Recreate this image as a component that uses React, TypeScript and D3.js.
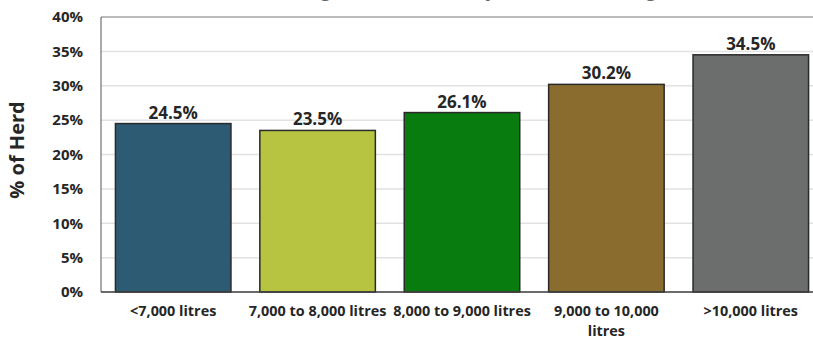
import React from "react";
import * as d3 from "d3";

// Milk yield bands and share of the herd in each
const categories: string[][] = [
  ["<7,000 litres"],
  ["7,000 to 8,000 litres"],
  ["8,000 to 9,000 litres"],
  ["9,000 to 10,000", "litres"],
  [">10,000 litres"],
];
const values: number[] = [24.5, 23.5, 26.1, 30.2, 34.5];
const barColors: string[] = ["#2d5b73", "#b6c441", "#087c0e", "#8a6c2f", "#6b6e6d"];
const yTicks: number[] = [0, 5, 10, 15, 20, 25, 30, 35, 40];
const title = "Percentage of Herd Culled by Milk Yield (Rolling 12 Months)";
const yTitle = "% of Herd";

const W = 813;
const H = 340;
const FONT = "'Open Sans', 'DejaVu Sans', sans-serif";

export default function App() {
  const left = 101;
  const right = 823;
  const top = 17;
  const bottom = 292;

  const keys = categories.map((c) => c.join(" "));
  const x = d3.scaleBand<string>().domain(keys).range([left, right]).paddingInner(0.2).paddingOuter(0.1);
  const y = d3.scaleLinear().domain([0, 40]).range([bottom, top]);

  return (
    <div style={{ position: "absolute", left: 0, top: 0 }}>
      <svg width={W} height={H} style={{ display: "block", background: "#fff" }} fontFamily={FONT}>
        <text x={500} y={-3} textAnchor="middle" fontSize={17.5} fontWeight={700} fill="#666">
          {title}
        </text>

        {/* gridlines */}
        {yTicks.map((t) => (
          <line key={"g" + t} x1={left} x2={right} y1={y(t)} y2={y(t)} stroke="#e2e2e2" strokeWidth={1.5} />
        ))}
        {/* plot frame */}
        <line x1={left} x2={right} y1={top} y2={top} stroke="#8c8c8c" strokeWidth={1} />
        <line x1={left} x2={left} y1={top} y2={bottom} stroke="#555" strokeWidth={1} />
        <line x1={right} x2={right} y1={top} y2={bottom} stroke="#555" strokeWidth={1} />

        {/* y tick labels */}
        {yTicks.map((t) => (
          <text
            key={"t" + t}
            x={83}
            y={y(t)}
            dy="0.35em"
            textAnchor="end"
            fontSize={15}
            fontWeight={700}
            fill="#262626"
          >
            {t + "%"}
          </text>
        ))}

        <text
          transform={`translate(17,${150}) rotate(-90)`}
          textAnchor="middle"
          dy="0.35em"
          fontSize={20}
          fontWeight={700}
          fill="#262626"
        >
          {yTitle}
        </text>

        {/* bars */}
        {values.map((v, i) => {
          const bx = x(keys[i]) as number;
          return (
            <g key={"b" + i}>
              <rect
                x={bx}
                y={y(v)}
                width={x.bandwidth()}
                height={bottom - y(v)}
                fill={barColors[i]}
                stroke="#2a2a2a"
                strokeWidth={1.5}
              />
              <text
                x={bx + x.bandwidth() / 2}
                y={y(v) - 5}
                textAnchor="middle"
                fontSize={17}
                fontWeight={700}
                fill="#262626"
              >
                {v.toFixed(1) + "%"}
              </text>
            </g>
          );
        })}

        {/* x axis line */}
        <line x1={left} x2={right} y1={bottom} y2={bottom} stroke="#404040" strokeWidth={1.5} />

        {/* x category labels */}
        {categories.map((lines, i) => {
          const cx = (x(keys[i]) as number) + x.bandwidth() / 2;
          return (
            <text key={"c" + i} textAnchor="middle" fontSize={14.4} fontWeight={700} fill="#262626">
              {lines.map((ln, j) => (
                <tspan key={j} x={cx} y={316 + j * 20}>
                  {ln}
                </tspan>
              ))}
            </text>
          );
        })}
      </svg>
    </div>
  );
}
